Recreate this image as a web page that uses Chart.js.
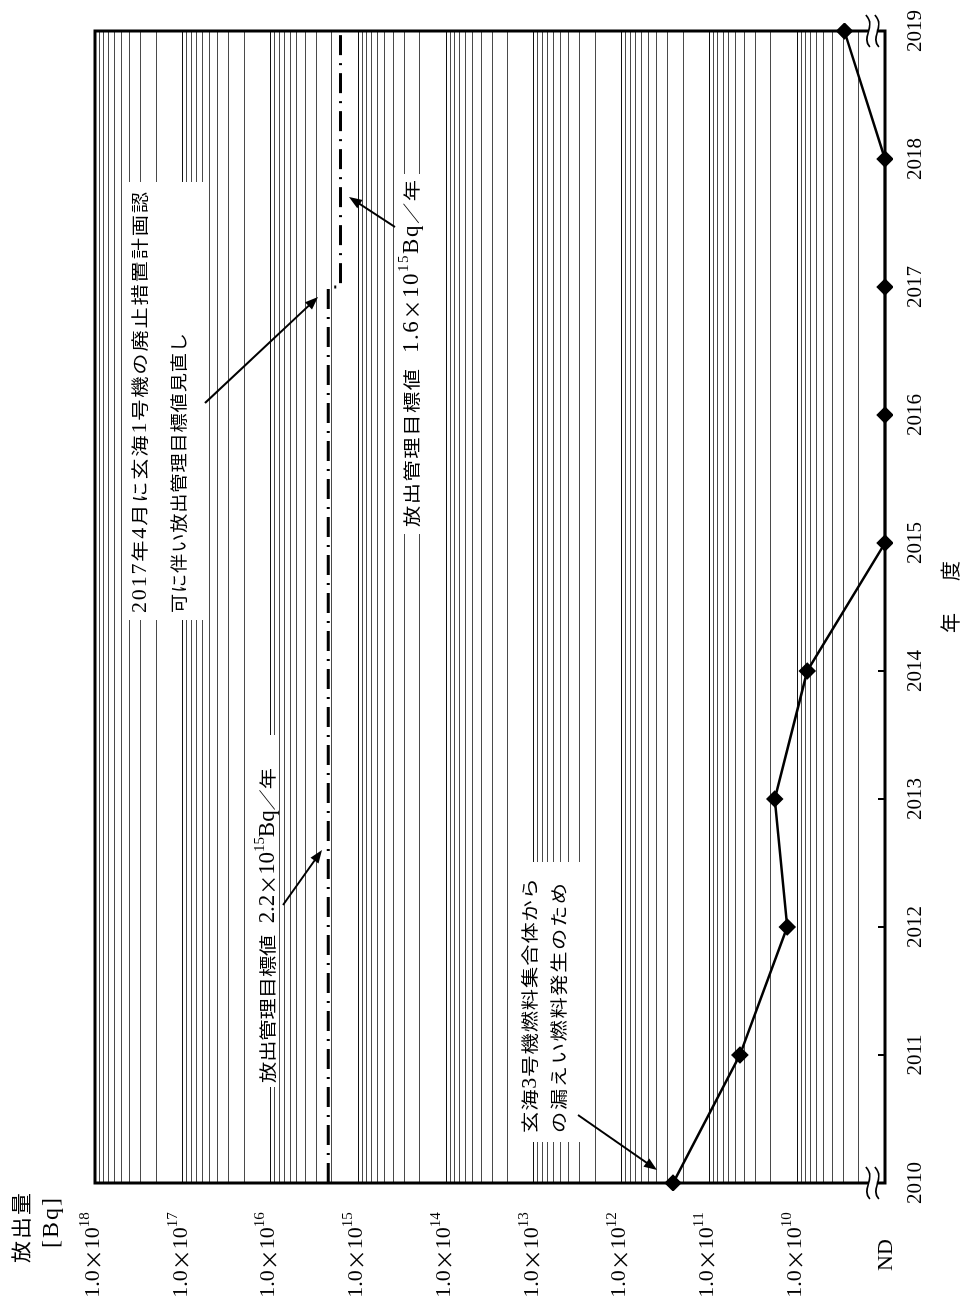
<!DOCTYPE html>
<html lang="ja">
<head>
<meta charset="utf-8">
<title>放出量の推移</title>
<script src="https://cdn.jsdelivr.net/npm/chart.js@4.4.1/dist/chart.umd.min.js"></script>
<style>
  html, body { margin: 0; padding: 0; background: #fff; }
  #page { position: relative; width: 964px; height: 1309px; overflow: hidden; background: #fff; }
  /* the chart is laid out landscape and turned a quarter turn counter-clockwise */
  #turn { position: absolute; left: 0; top: 1309px; width: 1309px; height: 964px;
          transform-origin: 0 0; transform: rotate(-90deg); }
  canvas { display: block; }
</style>
</head>
<body>
<div id="page"><div id="turn"><canvas id="chart" width="1309" height="964"></canvas></div></div>
<script>
// ---- data ----
const years = ['2010', '2011', '2012', '2013', '2014', '2015', '2016', '2017', '2018', '2019'];
// annual release [Bq]; null = not detected (ND)
const releaseBq = [2.6e11, 4.5e10, 1.3e10, 1.8e10, 7.7e9, null, null, null, null, 2.9e9];
const ndLevel = 1e9;                 // position of the ND row on the log axis
const decadeExponents = [18, 17, 16, 15, 14, 13, 12, 11, 10];
const ndLabel = 'ND';
// release control target [Bq/year], revised in April 2017
const targetOld = 2.2e15;
const targetNew = 1.6e15;
const revisionYear = '2017';

const SERIF = '"Liberation Serif", "DejaVu Serif", serif';
const CJK = '"Noto Sans CJK JP", "Noto Sans CJK SC", sans-serif';

// log grid: 1..9 x 10^n from the ND row up to 10^18
const gridValues = [];
for (let e = 9; e <= 17; e++) for (let m = 1; m <= 9; m++) gridValues.push(Number(m + 'e' + e));
gridValues.push(1e18);

// ---- text helpers ----
// runs of text with their own font, optional raise (dy) and horizontal glyph scale (sx)
function drawRuns(ctx, runs, x, y, opts = {}) {
  const chars = [];
  runs.forEach(r => {
    for (const ch of r.text) {
      chars.push({ ch, font: r.font, dy: r.dy || 0, sx: r.sx || 1, stretch: r.stretch !== false });
    }
  });
  let natural = 0, stretchCount = 0;
  chars.forEach((c, i) => {
    ctx.font = c.font;
    c.w = ctx.measureText(c.ch).width * c.sx;
    natural += c.w;
    if (c.stretch && i < chars.length - 1) stretchCount++;
  });
  let gap = opts.spacing || 0;
  if (opts.fit && stretchCount) gap = (opts.fit - natural) / stretchCount;
  const total = natural + gap * stretchCount;
  let cx = opts.align === 'center' ? x - total / 2 : x;
  ctx.save();
  ctx.fillStyle = '#000';
  ctx.textAlign = 'left';
  ctx.textBaseline = 'middle';
  chars.forEach((c, i) => {
    ctx.font = c.font;
    ctx.save();
    ctx.translate(cx, y + c.dy);
    ctx.scale(c.sx, 1);
    ctx.fillText(c.ch, 0, 0);
    ctx.restore();
    cx += c.w + (c.stretch && i < chars.length - 1 ? gap : 0);
  });
  ctx.restore();
}

function arrow(ctx, x1, y1, x2, y2) {
  const a = Math.atan2(y2 - y1, x2 - x1);
  const len = 13, half = 5;
  ctx.save();
  ctx.strokeStyle = '#000';
  ctx.fillStyle = '#000';
  ctx.lineWidth = 2;
  ctx.beginPath();
  ctx.moveTo(x1, y1);
  ctx.lineTo(x2 - Math.cos(a) * len * 0.8, y2 - Math.sin(a) * len * 0.8);
  ctx.stroke();
  ctx.beginPath();
  ctx.moveTo(x2, y2);
  ctx.lineTo(x2 - Math.cos(a) * len + Math.sin(a) * half, y2 - Math.sin(a) * len - Math.cos(a) * half);
  ctx.lineTo(x2 - Math.cos(a) * len - Math.sin(a) * half, y2 - Math.sin(a) * len + Math.cos(a) * half);
  ctx.closePath();
  ctx.fill();
  ctx.restore();
}

const cjk = px => px + 'px ' + CJK;
const serif = px => px + 'px ' + SERIF;
const WIDE = 1.25;   // Mincho-like wide setting of the Japanese glyphs

function kanji(text, sx = WIDE) { return { text, font: cjk(17), sx }; }
function latin(text, size = 23) { return { text, font: serif(size) }; }
function sup(text) { return { text, font: serif(15), dy: -8 }; }

// ---- annotations: white label panels, text and leader arrows ----
const annotationPlugin = {
  id: 'annotations',
  beforeDatasetsDraw(chart) {
    const ctx = chart.ctx;
    ctx.save();
    ctx.fillStyle = '#fff';
    ctx.fillRect(689, 123, 438, 86);   // revision note
    ctx.fillRect(222, 247, 352, 32);   // old target
    ctx.fillRect(775, 394, 360, 38);   // new target
    ctx.fillRect(167, 508, 280, 82);   // 2010 note
    ctx.restore();

    drawRuns(ctx, [
      latin('2017', 22), kanji('年'), latin('4', 22), kanji('月に玄海'),
      latin('1', 22), kanji('号機の廃止措置計画認')
    ], 696, 140, { fit: 421 });
    drawRuns(ctx, [kanji('可に伴い放出管理目標値見直し', 1.13)], 696, 179, { fit: 280 });

    drawRuns(ctx, [
      kanji('放出管理目標値'), latin('  2.2'), { text: '×', font: cjk(20) }, latin('10'),
      sup('15'), latin('Bq'), kanji('／年')
    ], 226, 268, { fit: 315 });

    drawRuns(ctx, [
      kanji('放出管理目標値'), latin('  1.6'), { text: '×', font: cjk(20) }, latin('10'),
      sup('15'), latin('Bq'), kanji('／年')
    ], 782, 412, { fit: 347 });

    drawRuns(ctx, [kanji('玄海'), latin('3', 22), kanji('号機燃料集合体から')], 176, 530, { fit: 255 });
    drawRuns(ctx, [kanji('の漏えい燃料発生のため')], 176, 559, { fit: 250 });
  },
  afterDatasetsDraw(chart) {
    const ctx = chart.ctx;
    arrow(ctx, 906, 205, 1012, 318);
    arrow(ctx, 404, 283, 459, 322);
    arrow(ctx, 1082, 395, 1112, 349);
    arrow(ctx, 194, 578, 139, 657);
  }
};

// ---- frame, axis break, inward year ticks, axis labels ----
const framePlugin = {
  id: 'frame',
  afterDraw(chart) {
    const ctx = chart.ctx;
    const a = chart.chartArea;
    const xs = chart.scales.x, ys = chart.scales.y;
    ctx.save();
    ctx.strokeStyle = '#000';
    ctx.lineWidth = 3;
    ctx.strokeRect(a.left, a.top, a.right - a.left, a.bottom - a.top);

    // inward ticks at each fiscal year
    ctx.lineWidth = 2;
    years.forEach((y, i) => {
      const px = xs.getPixelForValue(i);
      ctx.beginPath();
      ctx.moveTo(px, a.bottom);
      ctx.lineTo(px, a.bottom - 7);
      ctx.stroke();
    });

    // axis break between the 10^9 decade and the ND row
    const vb = (ys.getPixelForValue(2e9) + a.bottom) / 2 + 1;
    [a.left, a.right].forEach(ux => {
      ctx.fillStyle = '#fff';
      ctx.fillRect(ux - 3, vb - 4, 6, 8);
      ctx.strokeStyle = '#000';
      ctx.lineWidth = 1.6;
      [-5, 4].forEach(off => {
        ctx.beginPath();
        ctx.moveTo(ux - 16, vb + off + 2);
        ctx.bezierCurveTo(ux - 6, vb + off - 7, ux + 4, vb + off + 9, ux + 16, vb + off - 2);
        ctx.stroke();
      });
    });
    ctx.restore();

    // value labels on the log axis
    const labelU = 54;
    decadeExponents.forEach(e => {
      const v = ys.getPixelForValue(Number('1e' + e)) - 2;
      drawRuns(ctx, [
        latin('1.0', 22),
        { text: '×', font: cjk(21) },
        latin('10', 22),
        { text: String(e), font: serif(15), dy: -8 }
      ], labelU, v, { align: 'center' });
    });
    drawRuns(ctx, [latin(ndLabel, 22)], labelU, ys.getPixelForValue(ndLevel) + 1, { align: 'center' });

    // axis titles
    drawRuns(ctx, [{ text: '放出量', font: cjk(20), sx: 1.1 }], 81, 21, { align: 'center', fit: 70 });
    drawRuns(ctx, [latin('[Bq]', 24)], 86, 52, { align: 'center', spacing: 2 });
    drawRuns(ctx, [{ text: '年', font: cjk(20) }], 686, 950, { align: 'center' });
    drawRuns(ctx, [{ text: '度', font: cjk(20) }], 738, 950, { align: 'center' });
  }
};

const targetLine = [
  { x: years[0], y: targetOld },
  { x: revisionYear, y: targetOld },
  { x: revisionYear, y: targetNew },
  { x: years[years.length - 1], y: targetNew }
];

new Chart(document.getElementById('chart'), {
  type: 'line',
  data: {
    labels: years,
    datasets: [
      {
        label: '放出管理目標値',
        data: targetLine,
        borderColor: '#000',
        borderWidth: 3,
        borderDash: [20, 8, 2, 8],
        pointRadius: 0,
        fill: false,
        tension: 0
      },
      {
        label: '放出量',
        data: releaseBq.map(v => (v === null ? ndLevel : v)),
        borderColor: '#000',
        borderWidth: 2.5,
        pointStyle: 'rectRot',
        pointRadius: 7,
        pointBackgroundColor: '#000',
        pointBorderColor: '#000',
        fill: false,
        tension: 0,
        clip: 8
      }
    ]
  },
  options: {
    responsive: false,
    animation: false,
    devicePixelRatio: 1,
    layout: { padding: { left: 0, right: 29, top: 95, bottom: 0 } },
    plugins: { legend: { display: false }, tooltip: { enabled: false } },
    scales: {
      x: {
        type: 'category',
        offset: false,
        grid: { display: false },
        border: { display: false },
        ticks: {
          color: '#000',
          font: { family: SERIF, size: 21 },
          padding: 10,
          autoSkip: false,
          maxRotation: 0,
          minRotation: 0
        },
        afterFit(scale) { scale.height = 79; }
      },
      y: {
        type: 'logarithmic',
        min: ndLevel,
        max: 1e18,
        border: { display: false },
        grid: {
          drawTicks: false,
          lineWidth: 1,
          color(ctx) {
            const v = ctx.tick && ctx.tick.value;
            const lg = Math.log10(v);
            return Math.abs(lg - Math.round(lg)) < 1e-9 ? '#111' : '#4a4a4a';
          }
        },
        ticks: { display: false },
        afterBuildTicks(scale) { scale.ticks = gridValues.map(value => ({ value })); },
        afterFit(scale) { scale.width = 126; }
      }
    }
  },
  plugins: [annotationPlugin, framePlugin]
});
</script>
</body>
</html>
